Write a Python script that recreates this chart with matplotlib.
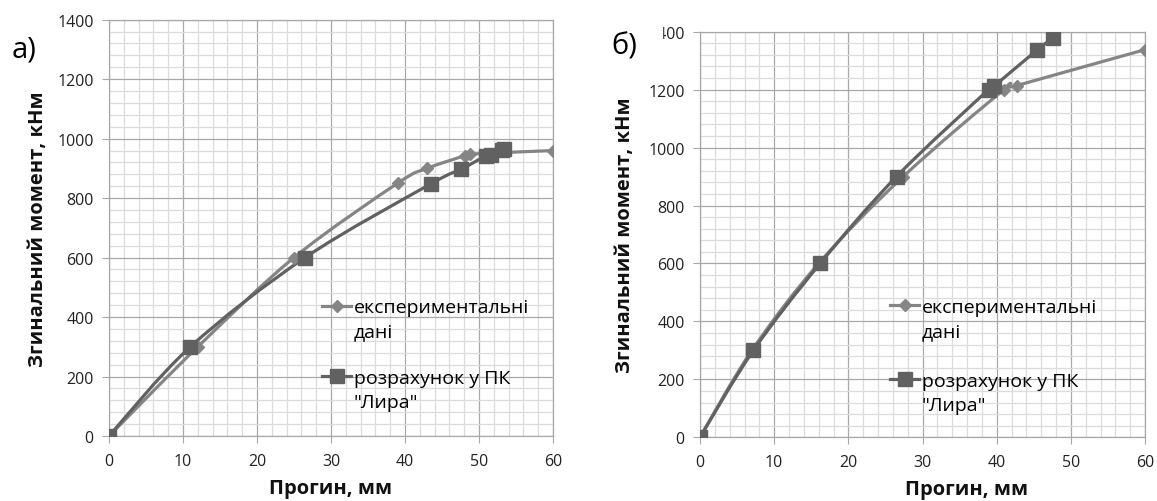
import numpy as np
import matplotlib
matplotlib.use("Agg")
import matplotlib.pyplot as plt
from matplotlib.path import Path
from matplotlib.patches import PathPatch, Rectangle
from matplotlib.lines import Line2D
from matplotlib.ticker import MultipleLocator

plt.rcParams['font.family'] = ['Open Sans', 'DejaVu Sans']

# panel a)
a_exp_x = [0, 12, 25, 39, 43, 48.1, 48.8, 60]
a_exp_y = [0, 300, 600, 850, 900, 943, 948, 960]
a_calc_x = [0, 11, 26.5, 43.5, 47.6, 50.9, 51.6, 53.1, 53.4]
a_calc_y = [0, 300, 600, 848, 897, 942, 946, 962, 966]

# panel б)
b_exp_x = [0, 7, 16, 27.4, 41, 42.7, 60]
b_exp_y = [0, 300, 600, 900, 1200, 1214, 1338]
b_calc_x = [0, 7.2, 16.2, 26.5, 38.9, 39.6, 45.5, 47.6]
b_calc_y = [0, 300, 600, 900, 1200, 1211, 1338, 1378]

x_label = "Прогин, мм"
y_label = "Згинальний момент, кНм"
exp_label = ["експериментальні", "дані"]
calc_label = ["розрахунок у ПК", "\"Лира\""]

exp_color = "#858585"
calc_color = "#616161"


def smooth_line(ax, xs, ys, color, lw):
    # excel-like smoothed line through the points (bezier segments)
    p = np.column_stack([xs, ys]).astype(float)
    n = len(p)
    verts = [p[0]]
    codes = [Path.MOVETO]
    for i in range(n - 1):
        p0 = p[i - 1] if i > 0 else p[i]
        p3 = p[i + 2] if i + 2 < n else p[i + 1]
        c1 = p[i] + (p[i + 1] - p0) / 6.0
        c2 = p[i + 1] - (p3 - p[i]) / 6.0
        verts += [c1, c2, p[i + 1]]
        codes += [Path.CURVE4] * 3
    ax.add_patch(PathPatch(Path(verts, codes), fill=False, edgecolor=color,
                           lw=lw, zorder=3, capstyle='round', joinstyle='round'))


def draw_panel(ax, ex, ey, cx, cy, leg_x, leg_y1, leg_y2):
    ax.set_xlim(0, 60)
    ax.set_ylim(0, 1400)
    ax.xaxis.set_major_locator(MultipleLocator(10))
    ax.xaxis.set_minor_locator(MultipleLocator(2))
    ax.yaxis.set_major_locator(MultipleLocator(200))
    ax.yaxis.set_minor_locator(MultipleLocator(40))
    ax.grid(which='major', color='#a8a8a8', lw=0.9, zorder=0)
    ax.grid(which='minor', color='#dcdcdc', lw=0.9, zorder=0)
    ax.set_axisbelow(True)
    for s in ax.spines.values():
        s.set_color('#a8a8a8')
        s.set_linewidth(0.9)
    ax.tick_params(which='major', length=5, color='#a8a8a8', labelsize=11.5,
                   labelcolor='#222222')
    ax.tick_params(axis='x', which='major', pad=7)
    ax.tick_params(axis='y', which='major', pad=6)
    ax.tick_params(which='minor', length=0)

    smooth_line(ax, ex, ey, exp_color, 2.3)
    smooth_line(ax, cx, cy, calc_color, 2.3)
    ax.plot(ex, ey, linestyle='none', marker='D', ms=6.5, color=exp_color, zorder=4)
    ax.plot(cx, cy, linestyle='none', marker='s', ms=9.5, color=calc_color, zorder=5)

    ax.set_xlabel(x_label, fontsize=14.5, fontweight='bold', color='#111111')
    ax.set_ylabel(y_label, fontsize=14.5, fontweight='bold', color='#111111')

    h_exp = Line2D([], [], color=exp_color, lw=2.3, marker='D', ms=6.5)
    h_calc = Line2D([], [], color=calc_color, lw=2.3, marker='s', ms=9.5)
    blank = Line2D([], [], color='none')
    kw = dict(frameon=False, fontsize=14, handlelength=1.5, handletextpad=0.12,
              labelspacing=0.32, borderpad=0, borderaxespad=0, loc='center left')
    leg1 = ax.legend([h_exp, blank], exp_label, bbox_to_anchor=(leg_x, leg_y1), **kw)
    ax.add_artist(leg1)
    ax.legend([h_calc, blank], calc_label, bbox_to_anchor=(leg_x, leg_y2), **kw)


fig = plt.figure(figsize=(11.57, 5.02), dpi=100)
ax1 = fig.add_axes([109 / 1157, 65 / 502, 444 / 1157, 416.3 / 502])
ax2 = fig.add_axes([700 / 1157, 63.7 / 502, 445 / 1157, 405.6 / 502])

draw_panel(ax1, a_exp_x, a_exp_y, a_calc_x, a_calc_y, 0.48, 0.28, 0.11)
draw_panel(ax2, b_exp_x, b_exp_y, b_calc_x, b_calc_y, 0.427, 0.292, 0.11)

ax1.yaxis.set_label_coords(-0.137, 0.5)
ax2.yaxis.set_label_coords(-0.146, 0.5)
ax1.xaxis.set_label_coords(0.5, -0.1)
ax2.xaxis.set_label_coords(0.6, -0.103)

fig.text(12 / 1157, 1 - 50 / 502, "а)", fontsize=21, va='center', ha='left')
fig.text(611 / 1157, 1 - 47 / 502, "б)", fontsize=21, va='center', ha='left')
# the б) box hides the start of the top tick label, as in the original
fig.add_artist(Rectangle((641 / 1157, 1 - 45 / 502), 21 / 1157, 25 / 502,
                         transform=fig.transFigure, color='white', zorder=5))

fig.savefig("out.png", dpi=100)
